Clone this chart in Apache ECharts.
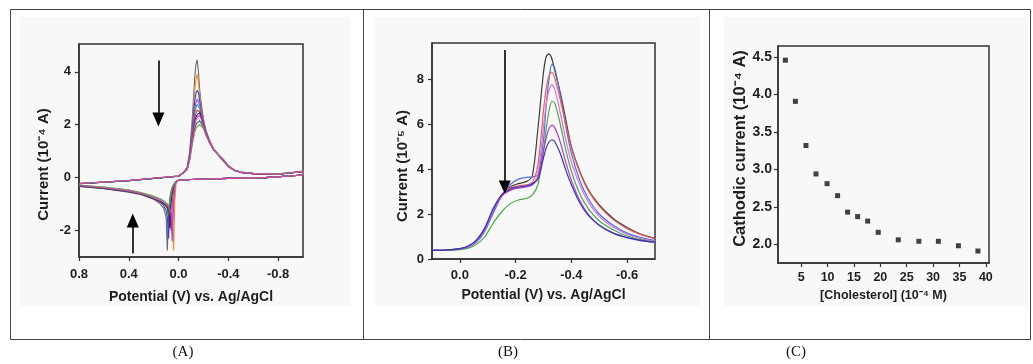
<!DOCTYPE html>
<html><head><meta charset="utf-8">
<script src="https://cdn.jsdelivr.net/npm/echarts@6/dist/echarts.min.js"></script>
<style>html,body{margin:0;padding:0;background:#fff}#c{width:1033px;height:364px}</style>
</head><body><div id="c"></div>
<script>
// ---------- Panel A : cyclic voltammograms (current in 1e-4 A) ----------
const A_fwdV = [0.8, 0.4, 0.0, -0.04, -0.07, -0.09, -0.11, -0.13, -0.14, -0.15, -0.16, -0.17, -0.18,
                -0.20, -0.22, -0.25, -0.28, -0.32, -0.36, -0.40, -0.45, -0.50, -0.60, -0.80, -1.00];
const A_revV = [-1.00, -0.70, -0.40, -0.10, 0.00, 0.02, 0.03, 0.04, 0.05, 0.06, 0.07, 0.08, 0.09, 0.10,
                0.12, 0.15, 0.20, 0.30, 0.40, 0.60, 0.80];
const A_colors = ['#6a6a6a','#f08a24','#2a46e0','#a040e0','#2aa0a0','#e03030','#22228a','#1f6e3e','#6aa840','#e040c0'];
const A_fwd = [
  [-0.22,-0.11,0.06,0.20, 0.40,1.00,2.20,3.80,4.30,4.45,4.00,3.30,2.90, 2.20,1.80,1.40,1.10,0.85,0.62,0.42,0.27,0.20,0.15,0.13,0.25],
  [-0.22,-0.11,0.06,0.20, 0.38,0.95,2.00,3.30,3.72,3.90,3.60,3.10,2.70, 2.15,1.75,1.38,1.10,0.86,0.64,0.42,0.27,0.20,0.15,0.13,0.24],
  [-0.23,-0.12,0.05,0.19, 0.36,0.90,1.85,2.90,3.20,3.30,3.20,2.90,2.55, 2.10,1.72,1.36,1.08,0.85,0.64,0.42,0.27,0.20,0.15,0.13,0.23],
  [-0.22,-0.11,0.06,0.20, 0.35,0.85,1.70,2.60,2.85,2.97,3.00,2.75,2.45, 2.05,1.70,1.35,1.08,0.86,0.65,0.43,0.28,0.20,0.15,0.13,0.22],
  [-0.23,-0.12,0.05,0.19, 0.34,0.80,1.60,2.45,2.65,2.78,2.80,2.60,2.35, 2.00,1.68,1.34,1.08,0.87,0.67,0.44,0.28,0.21,0.16,0.14,0.22],
  [-0.22,-0.11,0.06,0.20, 0.33,0.78,1.50,2.25,2.45,2.55,2.60,2.50,2.30, 1.97,1.66,1.33,1.07,0.86,0.66,0.43,0.28,0.20,0.15,0.13,0.24],
  [-0.23,-0.12,0.05,0.19, 0.32,0.75,1.42,2.10,2.28,2.38,2.43,2.45,2.30, 1.95,1.65,1.32,1.07,0.86,0.66,0.43,0.27,0.20,0.15,0.13,0.22],
  [-0.23,-0.12,0.05,0.19, 0.31,0.70,1.30,1.85,2.00,2.08,2.12,2.15,2.12, 1.90,1.62,1.31,1.07,0.87,0.68,0.45,0.28,0.21,0.16,0.14,0.22],
  [-0.22,-0.11,0.06,0.20, 0.30,0.68,1.25,1.72,1.85,1.93,1.97,2.00,2.00, 1.85,1.60,1.30,1.07,0.88,0.70,0.46,0.29,0.21,0.16,0.14,0.22],
  [-0.22,-0.11,0.06,0.20, 0.32,0.73,1.38,2.00,2.18,2.28,2.33,2.35,2.25, 1.93,1.64,1.32,1.07,0.86,0.66,0.43,0.27,0.20,0.15,0.13,0.23]
];
const A_rev = [
  [0.10,0.00,-0.03,-0.07,-0.10, -0.14,-0.18,-0.25,-0.35,-0.50,-0.75,-1.30,-2.75,-1.50,-1.15,-0.98,-0.82,-0.65,-0.55,-0.42,-0.33],
  [0.10,0.00,-0.03,-0.07,-0.10, -0.20,-0.90,-2.75,-1.70,-1.40,-1.28,-1.20,-1.14,-1.10,-1.02,-0.93,-0.80,-0.64,-0.54,-0.41,-0.32],
  [0.10,0.00,-0.03,-0.07,-0.10, -0.15,-0.20,-0.30,-0.45,-0.70,-1.10,-2.30,-1.50,-1.25,-1.05,-0.90,-0.78,-0.62,-0.52,-0.40,-0.31],
  [0.10,0.00,-0.03,-0.07,-0.10, -0.18,-0.40,-1.00,-2.40,-1.60,-1.30,-1.18,-1.10,-1.05,-0.98,-0.90,-0.78,-0.62,-0.52,-0.40,-0.31],
  [0.10,0.00,-0.03,-0.07,-0.10, -0.15,-0.22,-0.35,-0.55,-0.85,-1.40,-1.15,-1.00,-0.95,-0.88,-0.80,-0.72,-0.58,-0.48,-0.37,-0.29],
  [0.10,0.00,-0.03,-0.07,-0.10, -0.16,-0.28,-0.50,-0.95,-2.00,-1.40,-1.20,-1.10,-1.05,-0.97,-0.88,-0.77,-0.61,-0.51,-0.39,-0.30],
  [0.10,0.00,-0.03,-0.07,-0.10, -0.15,-0.22,-0.35,-0.55,-0.90,-1.90,-1.35,-1.15,-1.05,-0.98,-0.90,-0.80,-0.63,-0.53,-0.41,-0.32],
  [0.10,0.00,-0.03,-0.07,-0.10, -0.15,-0.20,-0.28,-0.40,-0.60,-0.90,-1.50,-1.20,-1.05,-0.95,-0.87,-0.78,-0.62,-0.52,-0.40,-0.31],
  [0.10,0.00,-0.03,-0.07,-0.10, -0.15,-0.20,-0.28,-0.40,-0.60,-0.95,-1.10,-1.00,-0.95,-0.88,-0.80,-0.70,-0.56,-0.46,-0.36,-0.28],
  [0.10,0.00,-0.03,-0.07,-0.10, -0.17,-0.35,-0.80,-1.70,-1.35,-1.20,-1.10,-1.05,-1.00,-0.93,-0.86,-0.76,-0.60,-0.50,-0.38,-0.30]
];
const A_xTicks = [0.8, 0.4, 0.0, -0.4, -0.8];
const A_yTicks = [-2, 0, 2, 4];
// arrows: [potential, start current, end current]
const A_arrows = [[0.162, 4.43, 2.2], [0.368, -2.87, -1.62]];

// ---------- Panel B : differential pulse voltammograms (current in 1e-5 A) ----------
const B_V = [0.10, 0.05, 0.00, -0.03, -0.06, -0.09, -0.12, -0.15, -0.18, -0.21, -0.24, -0.26, -0.28, -0.30,
             -0.31, -0.32, -0.33, -0.34, -0.36, -0.38, -0.40, -0.43, -0.46, -0.50, -0.55, -0.60, -0.65, -0.70];
const B_colors = ['#3a3a3a','#5070e0','#f05a50','#e070e0','#44aa44','#b040d0','#3434b4'];
const B_I = [
  [0.38,0.40,0.45,0.55,0.80,1.30,2.15,2.85,3.20,3.35,3.45,3.70,5.80,8.30,9.00,9.12,8.90,8.40,7.40,6.20,5.00,3.90,3.10,2.40,1.80,1.40,1.10,0.92],
  [0.38,0.40,0.44,0.52,0.75,1.25,2.05,2.80,3.30,3.55,3.63,3.65,3.75,5.30,6.90,8.00,8.65,8.50,7.30,5.90,4.70,3.50,2.70,2.00,1.50,1.15,0.95,0.82],
  [0.38,0.40,0.45,0.56,0.82,1.35,2.20,2.85,3.15,3.25,3.30,3.40,4.20,6.60,7.60,8.15,8.30,8.05,7.10,6.00,4.95,3.85,3.05,2.35,1.75,1.35,1.08,0.90],
  [0.38,0.40,0.45,0.55,0.80,1.32,2.15,2.80,3.10,3.20,3.25,3.30,3.80,5.90,6.90,7.50,7.75,7.55,6.50,5.30,4.30,3.30,2.55,1.90,1.42,1.10,0.90,0.80],
  [0.38,0.39,0.42,0.48,0.65,1.00,1.60,2.10,2.45,2.62,2.70,2.85,3.30,4.80,5.80,6.60,7.00,6.95,6.00,4.85,3.90,2.90,2.25,1.70,1.30,1.02,0.86,0.76],
  [0.38,0.40,0.45,0.56,0.82,1.35,2.20,2.80,3.05,3.15,3.20,3.30,3.60,4.80,5.40,5.80,5.95,5.85,5.20,4.30,3.50,2.60,2.00,1.50,1.15,0.95,0.82,0.75],
  [0.38,0.40,0.46,0.58,0.85,1.40,2.25,2.85,3.10,3.20,3.25,3.35,3.55,4.50,4.95,5.20,5.30,5.22,4.70,3.95,3.30,2.50,1.95,1.50,1.15,0.95,0.82,0.75]
];
const B_xTicks = [0.0, -0.2, -0.4, -0.6];
const B_yTicks = [0, 2, 4, 6, 8];
const B_arrows = [[-0.161, 9.29, 3.2]];

// ---------- Panel C : cathodic current vs cholesterol ----------
const C_conc = [2.0, 3.9, 5.9, 7.8, 9.9, 11.9, 13.8, 15.7, 17.6, 19.6, 23.4, 27.3, 31.0, 34.8, 38.5];
const C_curr = [4.46, 3.91, 3.32, 2.94, 2.81, 2.65, 2.43, 2.37, 2.31, 2.16, 2.06, 2.04, 2.04, 1.98, 1.91];
const C_xTicks = [5, 10, 15, 20, 25, 30, 35, 40];
const C_yTicks = [2.0, 2.5, 3.0, 3.5, 4.0, 4.5];

// ---------- chart ----------
const FONT = '"Liberation Sans", Arial, sans-serif';
const TXT = '#1e1e1e';
const AX = '#333';
const near = (v, list) => list.some(t => Math.abs(t - v) < 1e-6);

function xAxisCfg(grid, min, max, ticks, fmt, name, nameGap, margin, fs, nfs) {
  return {
    type: 'value', gridIndex: grid, min, max, name, nameLocation: 'middle', nameGap,
    nameTextStyle: { fontFamily: FONT, fontWeight: 'bold', fontSize: nfs, color: TXT },
    axisLine: { show: true, onZero: false, lineStyle: { color: AX, width: 1.5 } },
    axisTick: { show: true, inside: false, length: 4, lineStyle: { color: AX, width: 1.2 }, customValues: ticks },
    axisLabel: { show: true, margin, fontFamily: FONT, fontWeight: 'bold', fontSize: fs, color: TXT,
      customValues: ticks, formatter: v => near(v, ticks) ? fmt(v) : '' },
    splitLine: { show: false }
  };
}
function yAxisCfg(grid, min, max, ticks, fmt, name, nameGap, pad, margin, fs, nfs) {
  return {
    type: 'value', gridIndex: grid, min, max, name, nameLocation: 'middle', nameGap,
    nameTextStyle: { fontFamily: FONT, fontWeight: 'bold', fontSize: nfs, color: TXT, padding: pad },
    axisLine: { show: true, onZero: false, lineStyle: { color: AX, width: 1.5 } },
    axisTick: { show: true, inside: false, length: 4, lineStyle: { color: AX, width: 1.2 }, customValues: ticks },
    axisLabel: { show: true, margin, fontFamily: FONT, fontWeight: 'bold', fontSize: fs, color: TXT,
      customValues: ticks, formatter: v => near(v, ticks) ? fmt(v) : '' },
    splitLine: { show: false }
  };
}
const negFmt = v => { const r = -v; return (Math.abs(r) < 1e-9 ? 0 : r).toFixed(1); };

const series = [];
A_fwd.forEach((up, k) => {
  const data = A_fwdV.map((v, i) => [-v, up[i]]).concat(A_revV.map((v, i) => [-v, A_rev[k][i]]));
  series.push({ type: 'line', xAxisIndex: 0, yAxisIndex: 0, data, showSymbol: false,
    symbol: 'none', lineStyle: { color: A_colors[k], width: 1.1 }, z: 2, animation: false });
});
series[series.length - 1].markLine = {
  silent: true, animation: false, symbol: ['none', 'triangle'], symbolSize: [12, 14],
  label: { show: false }, lineStyle: { color: '#000', width: 1.6, type: 'solid' },
  data: A_arrows.map(a => [{ coord: [-a[0], a[1]] }, { coord: [-a[0], a[2]] }])
};
B_I.forEach((arr, k) => {
  series.push({ type: 'line', xAxisIndex: 1, yAxisIndex: 1, data: B_V.map((v, i) => [-v, arr[i]]),
    showSymbol: false, symbol: 'none', smooth: 0.3, lineStyle: { color: B_colors[k], width: 1.2 }, animation: false });
});
series[series.length - 1].markLine = {
  silent: true, animation: false, symbol: ['none', 'triangle'], symbolSize: [12, 13],
  label: { show: false }, lineStyle: { color: '#000', width: 1.6, type: 'solid' },
  data: B_arrows.map(a => [{ coord: [-a[0], a[1]] }, { coord: [-a[0], a[2]] }])
};
series.push({ type: 'scatter', xAxisIndex: 2, yAxisIndex: 2, data: C_conc.map((c, i) => [c, C_curr[i]]),
  symbol: 'rect', symbolSize: 5, itemStyle: { color: '#111' }, animation: false });

const frameStyle = { stroke: '#444', lineWidth: 1 };
const labelFont = '15px "Liberation Serif", "Times New Roman", serif';
const option = {
  backgroundColor: '#fff',
  animation: false,
  grid: [
    { left: 79, top: 44, width: 224, height: 213, show: true, borderColor: AX, borderWidth: 1.5, backgroundColor: 'transparent' },
    { left: 432, top: 43, width: 223, height: 216, show: true, borderColor: AX, borderWidth: 1.5, backgroundColor: 'transparent' },
    { left: 778, top: 46, width: 211, height: 217, show: true, borderColor: AX, borderWidth: 1.5, backgroundColor: 'transparent' }
  ],
  xAxis: [
    xAxisCfg(0, -0.8, 1.0, A_xTicks.map(v => -v), negFmt, 'Potential (V) vs. Ag/AgCl', 33, 11, 13, 14),
    xAxisCfg(1, -0.1, 0.7, B_xTicks.map(v => -v), negFmt, 'Potential (V) vs. Ag/AgCl', 29, 10, 13, 14),
    xAxisCfg(2, 0.6, 40.6, C_xTicks, v => String(Math.round(v)), '[Cholesterol] (10\u207B\u2074 M)', 24, 8, 12.5, 12.5)
  ],
  yAxis: [
    yAxisCfg(0, -3, 5.05, A_yTicks, v => String(Math.round(v)), 'Current (10\u207B\u2074 A)', 28, [0, 28, 0, 0], 8, 13, 15),
    yAxisCfg(1, 0, 9.6, B_yTicks, v => String(Math.round(v)), 'Current (10\u207B\u2075 A)', 22, [0, 30, 0, 0], 8, 13, 15),
    yAxisCfg(2, 1.75, 4.65, C_yTicks, v => v.toFixed(1), 'Cathodic current (10\u207B\u2074 A)', 27, [0, 0, 0, 12], 6, 14, 16.5)
  ],
  series,
  graphic: [
    { type: 'rect', z: -10, shape: { x: 20, y: 17, width: 330, height: 289 }, style: { fill: '#f8f8f8' }, silent: true },
    { type: 'rect', z: -10, shape: { x: 375, y: 17, width: 325, height: 289 }, style: { fill: '#f8f8f8' }, silent: true },
    { type: 'rect', z: -10, shape: { x: 724, y: 17, width: 304, height: 289 }, style: { fill: '#f8f8f8' }, silent: true },
    { type: 'rect', z: 10, shape: { x: 10.5, y: 9.5, width: 1020, height: 330 }, style: { fill: 'none', ...frameStyle }, silent: true },
    { type: 'line', z: 10, shape: { x1: 363.5, y1: 9.5, x2: 363.5, y2: 339.5 }, style: frameStyle, silent: true },
    { type: 'line', z: 10, shape: { x1: 709.5, y1: 9.5, x2: 709.5, y2: 339.5 }, style: frameStyle, silent: true },
    { type: 'text', z: 10, x: 183, y: 345, style: { text: '(A)', fill: '#111', font: labelFont, textAlign: 'center' } },
    { type: 'text', z: 10, x: 508, y: 345, style: { text: '(B)', fill: '#111', font: labelFont, textAlign: 'center' } },
    { type: 'text', z: 10, x: 796, y: 345, style: { text: '(C)', fill: '#111', font: labelFont, textAlign: 'center' } }
  ]
};
const chart = echarts.init(document.getElementById('c'), null, { renderer: 'canvas' });
chart.setOption(option);
</script></body></html>
